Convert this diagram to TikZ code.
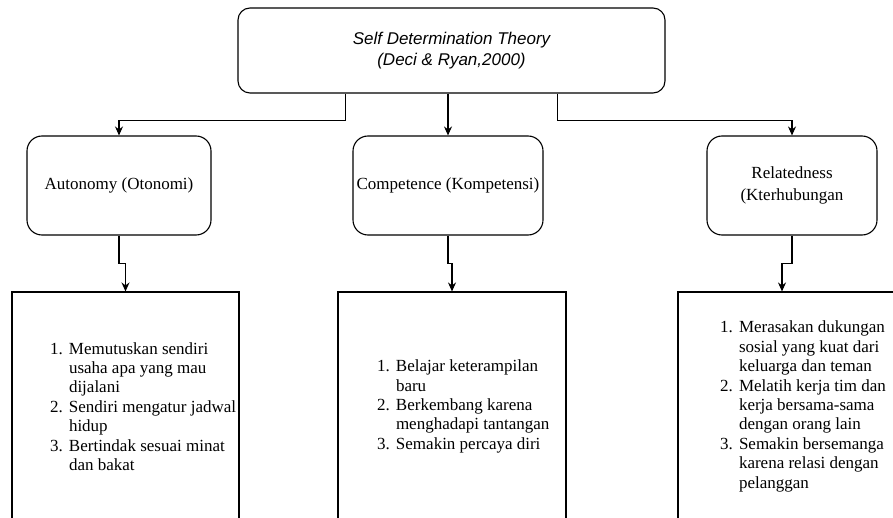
\documentclass[tikz,border=0pt]{standalone}
\usepackage{fontspec}
\setmainfont{Liberation Serif}
\newfontfamily\arialfont{Liberation Sans}
\usepackage{tikz}
\usetikzlibrary{arrows.meta,positioning}

\newcommand{\nr}[1]{\makebox[19pt][l]{#1}}

\begin{document}
\begin{tikzpicture}[x=1pt, y=-1pt, line width=1.1pt, >={Stealth[length=9pt,width=8pt]},
    theorybox/.style={rectangle, rounded corners=12pt, draw, minimum width=427pt, minimum height=85pt, align=center, font=\arialfont\itshape\fontsize{17}{21}\selectfont},
    needbox/.style={rectangle, rounded corners=15pt, draw, minimum height=99pt, align=center, font=\fontsize{17}{22}\selectfont},
    listbox/.style={rectangle, draw, minimum width=228pt, minimum height=229pt},
    listtext/.style={anchor=west, inner sep=0pt, align=left, font=\fontsize{17}{19.4}\selectfont}]
    \useasboundingbox (0,0) rectangle (893,518);
    \clip (0,0) rectangle (893,518);

    \node[theorybox] (sdt) at (451.5,50.5) {Self Determination Theory\\(Deci \& Ryan,2000)};

    \node[needbox, minimum width=184pt] (auto) at (119,185.5) {Autonomy (Otonomi)};
    \node[needbox, minimum width=190pt] (comp) at (448,185.5) {Competence (Kompetensi)};
    \node[needbox, minimum width=170pt] (relat) at (792,185.5) {Relatedness\\(Kterhubungan};

    \node[listbox, minimum width=227pt] (autobox) at (125.5,406.5) {};
    \node[listbox] (compbox) at (452,406.5) {};
    \node[listbox] (relbox) at (792,406.5) {};

    \node[listtext] (autolist) at ([xshift=38pt]autobox.west) {\nr{1.}Memutuskan sendiri\\\nr{}usaha apa yang mau\\\nr{}dijalani\\\nr{2.}Sendiri mengatur jadwal\\\nr{}hidup\\\nr{3.}Bertindak sesuai minat\\\nr{}dan bakat};
    \node[listtext] (complist) at ([xshift=39pt]compbox.west) {\nr{1.}Belajar keterampilan\\\nr{}baru\\\nr{2.}Berkembang karena\\\nr{}menghadapi tantangan\\\nr{3.}Semakin percaya diri};
    \node[listtext] (rellist) at ([xshift=42pt]relbox.west) {\nr{1.}Merasakan dukungan\\\nr{}sosial yang kuat dari\\\nr{}keluarga dan teman\\\nr{2.}Melatih kerja tim dan\\\nr{}kerja bersama-sama\\\nr{}dengan orang lain\\\nr{3.}Semakin bersemanga\\\nr{}karena relasi dengan\\\nr{}pelanggan};

    \draw[->] ([xshift=-106pt]sdt.south) -- ++(0,27) -| (auto.north);
    \draw[->] (sdt.south -| comp.north) -- (comp.north);
    \draw[->] ([xshift=106pt]sdt.south) -- ++(0,27) -| (relat.north);

    \draw[->] (auto.south) -- ++(0,28) -| (autobox.north);
    \draw[->] (comp.south) -- ++(0,28) -| (compbox.north);
    \draw[->] (relat.south) -- ++(0,28) -| ([xshift=-10pt]relbox.north);
\end{tikzpicture}
\end{document}
